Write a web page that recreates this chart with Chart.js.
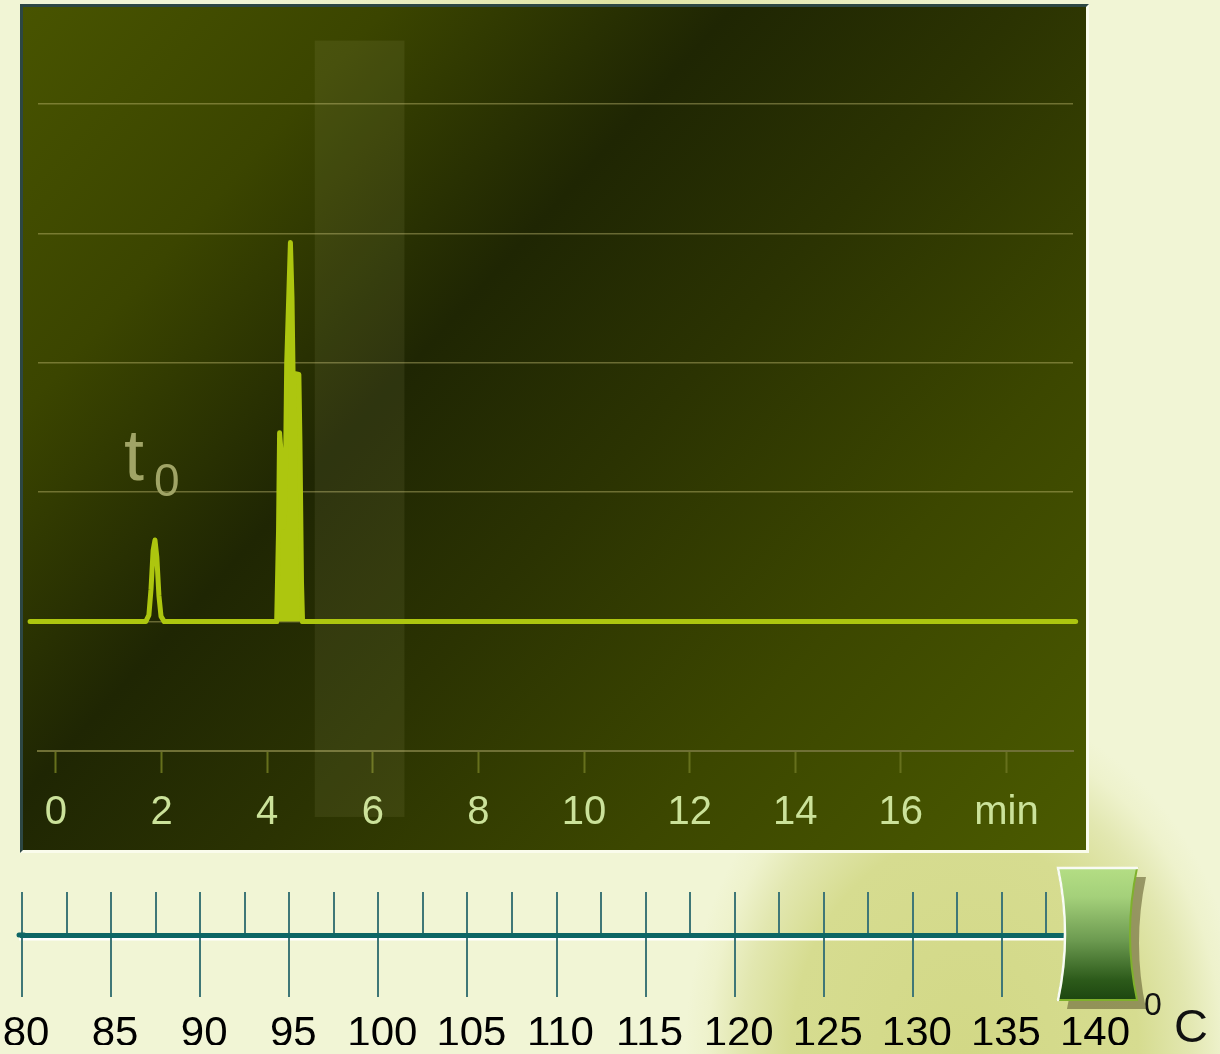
<!DOCTYPE html>
<html>
<head>
<meta charset="utf-8">
<title>Chromatogram with oven temperature</title>
<script src="https://cdn.jsdelivr.net/npm/chart.js@4/dist/chart.umd.min.js"></script>
<style>
  html, body { margin: 0; padding: 0; }
  body {
    width: 1220px; height: 1054px; overflow: hidden; position: relative;
    background:
      radial-gradient(ellipse 280px 350px at 965px 1054px, #d2d886 0%, #d6dc90 62%, #e2e7b0 80%, #eef2cc 92%, rgba(241,245,213,0) 100%),
      #f1f5d5;
  }
  #topglow {
    position: absolute; left: 0; top: 0; width: 1220px; height: 6px;
    background: linear-gradient(90deg, rgba(223,227,162,0) 20%, #dfe3a2 50%, rgba(223,227,162,0) 85%);
  }
  #panel {
    position: absolute; left: 20px; top: 4px; width: 1063px; height: 843px;
    border-left: 3px solid #2d4744; border-top: 3px solid #2d4744;
    border-right: 3px solid #fafcec; border-bottom: 3px solid #fafcec;
    background: linear-gradient(132deg, #485400 0%, #3b4500 20%, #1f2603 39%, #2b3302 55%, #3c4700 75%, #4b5b00 100%);
  }
  canvas { position: absolute; left: 0; top: 0; }
</style>
</head>
<body>
<div id="topglow"></div>
<div id="panel"></div>
<canvas id="trace" width="1220" height="1054"></canvas>
<canvas id="oven" width="1220" height="1054"></canvas>
<script>
// Detector trace: retention time (min) and detector signal (arbitrary units)
const traceTime   = [-0.49, 1.70, 1.76, 1.80, 1.84, 1.875, 1.91, 1.95, 1.99, 2.05,
                     4.18, 4.215, 4.235, 4.265, 4.28, 4.31, 4.34, 4.37, 4.44, 4.47,
                     4.49, 4.60, 4.62, 4.65, 4.67, 19.31];
const traceSignal = [0, 0, 0.05, 0.25, 0.55, 0.63, 0.50, 0.20, 0.04, 0,
                     0, 0.70, 1.46, 1.30, 0.75, 0.73, 0.90, 2.00, 2.93, 2.50,
                     1.92, 1.91, 1.40, 0.30, 0, 0];

// Time axis ticks and their labels
const timeTicks      = [0, 2, 4, 6, 8, 10, 12, 14, 16, 18];
const timeTickLabels = ['0', '2', '4', '6', '8', '10', '12', '14', '16', 'min'];

// Signal grid levels
const signalGrid = [-1, 0, 1, 2, 3, 4];

// Dead time marker, the main peak group (drawn filled) and the highlighted time window
const deadTime   = 1.875;
const peakGroup  = [4.1, 4.7];
const windowTime = [4.9, 6.6];

// Oven temperature scale (°C)
const tempTicks  = [80, 82.5, 85, 87.5, 90, 92.5, 95, 97.5, 100, 102.5, 105, 107.5, 110,
                    112.5, 115, 117.5, 120, 122.5, 125, 127.5, 130, 132.5, 135, 137.5, 140];
const tempLabels = ['80', '', '85', '', '90', '', '95', '', '100', '', '105', '', '110',
                    '', '115', '', '120', '', '125', '', '130', '', '135', '', '140'];
const ovenTemp   = 140;

const FONT = "'Liberation Sans', Arial, sans-serif";
const TRACE = '#adc60f';

// Lighter vertical band behind the trace and the t0 marker text
const tracePlugin = {
  id: 'traceDecor',
  beforeDatasetsDraw(chart) {
    const { ctx, scales: { x, y } } = chart;
    const x0 = x.getPixelForValue(windowTime[0]);
    const x1 = x.getPixelForValue(windowTime[1]);
    const y0 = y.getPixelForValue(4.49);
    const y1 = y.getPixelForValue(-1.51);
    ctx.save();
    ctx.fillStyle = 'rgba(225,232,170,0.08)';
    ctx.fillRect(x0, y0, x1 - x0, y1 - y0);
    ctx.restore();
  },
  afterDatasetsDraw(chart) {
    const { ctx, scales: { x, y } } = chart;
    const px = x.getPixelForValue(deadTime);
    const py = y.getPixelForValue(1.09);
    ctx.save();
    ctx.fillStyle = '#a0a466';
    ctx.textBaseline = 'alphabetic';
    ctx.textAlign = 'left';
    ctx.font = '72px ' + FONT;
    ctx.fillText('t', px - 31, py - 1);
    ctx.font = '46px ' + FONT;
    ctx.fillText('0', px - 1, py + 15);
    ctx.restore();
  }
};

const inPeakGroup = c => c.p0.parsed.x >= peakGroup[0] && c.p1.parsed.x <= peakGroup[1];

new Chart(document.getElementById('trace'), {
  type: 'line',
  data: {
    datasets: [{
      data: traceTime.map((t, i) => ({ x: t, y: traceSignal[i] })),
      borderColor: TRACE,
      backgroundColor: 'rgba(0,0,0,0)',
      borderWidth: 5,
      borderJoinStyle: 'round',
      borderCapStyle: 'round',
      pointRadius: 0,
      tension: 0,
      fill: 'origin',
      segment: { backgroundColor: c => (inPeakGroup(c) ? TRACE : 'rgba(0,0,0,0)') },
      clip: false
    }]
  },
  options: {
    responsive: false,
    animation: false,
    events: [],
    layout: { padding: { left: 38, right: 147, top: 104, bottom: 203 } },
    plugins: { legend: { display: false }, tooltip: { enabled: false } },
    scales: {
      x: {
        type: 'linear',
        min: -0.34,
        max: 19.26,
        afterBuildTicks: s => { s.ticks = timeTicks.map(v => ({ value: v })); },
        afterFit: s => { s.height = 100; s.paddingLeft = 0; s.paddingRight = 0; },
        ticks: {
          callback: v => timeTickLabels[timeTicks.indexOf(v)],
          color: '#cbe29a',
          font: { size: 40, family: FONT },
          padding: 16,
          maxRotation: 0,
          autoSkip: false
        },
        grid: {
          drawOnChartArea: false,
          drawTicks: true,
          tickLength: 22,
          tickColor: '#66701c',
          tickWidth: 2
        },
        border: { display: true, color: '#6f7036', width: 2 }
      },
      y: {
        type: 'linear',
        min: signalGrid[0],
        max: signalGrid[signalGrid.length - 1],
        afterBuildTicks: s => { s.ticks = signalGrid.map(v => ({ value: v })); },
        afterFit: s => { s.width = 0; s.paddingTop = 0; s.paddingBottom = 0; },
        ticks: { display: false },
        grid: { color: 'rgba(200,192,120,0.42)', lineWidth: 1.6, drawTicks: false },
        border: { display: false }
      }
    }
  },
  plugins: [tracePlugin]
});

// Oven temperature ruler with slider thumb and unit
const ovenPlugin = {
  id: 'ovenDecor',
  beforeDraw(chart) {
    const { ctx, chartArea } = chart;
    ctx.save();
    ctx.strokeStyle = '#ffffff';
    ctx.lineWidth = 3;
    ctx.beginPath();
    ctx.moveTo(chartArea.left - 3, chartArea.bottom + 4);
    ctx.lineTo(chartArea.right, chartArea.bottom + 4);
    ctx.stroke();
    ctx.restore();
  },
  afterDraw(chart) {
    const { ctx, chartArea, scales: { x } } = chart;
    const cx = x.getPixelForValue(ovenTemp) + 6;
    const left = cx - 39, right = cx + 40, top = 868, bottom = 1000, bow = 7;
    const shape = (dx, dy) => {
      ctx.beginPath();
      ctx.moveTo(left + dx, top + dy);
      ctx.lineTo(right + dx, top + dy);
      ctx.quadraticCurveTo(right - 2 * bow + dx, (top + bottom) / 2 + dy, right + dx, bottom + dy);
      ctx.lineTo(left + dx, bottom + dy);
      ctx.quadraticCurveTo(left + 2 * bow + dx, (top + bottom) / 2 + dy, left + dx, top + dy);
      ctx.closePath();
    };
    ctx.save();
    // left cap of the rail
    ctx.strokeStyle = '#0d6665';
    ctx.lineWidth = 5;
    ctx.lineCap = 'round';
    ctx.beginPath();
    ctx.moveTo(chartArea.left - 3, chartArea.bottom);
    ctx.lineTo(chartArea.left + 2, chartArea.bottom);
    ctx.stroke();
    // thumb shadow
    shape(9, 9);
    ctx.fillStyle = 'rgba(110,108,60,0.65)';
    ctx.fill();
    // thumb body
    const g = ctx.createLinearGradient(0, top, 0, bottom);
    g.addColorStop(0, '#b4de84');
    g.addColorStop(0.22, '#a4d07a');
    g.addColorStop(0.55, '#6c9a50');
    g.addColorStop(0.85, '#2c5a1a');
    g.addColorStop(1, '#1d4610');
    shape(0, 0);
    ctx.fillStyle = g;
    ctx.fill();
    ctx.lineWidth = 2;
    ctx.strokeStyle = '#7fb12c';
    ctx.stroke();
    ctx.beginPath();
    ctx.moveTo(right, top);
    ctx.lineTo(left, top);
    ctx.quadraticCurveTo(left + 2 * bow, (top + bottom) / 2, left, bottom);
    ctx.strokeStyle = 'rgba(255,255,255,0.95)';
    ctx.lineWidth = 2.5;
    ctx.stroke();
    // unit
    ctx.fillStyle = '#111';
    ctx.textAlign = 'left';
    ctx.textBaseline = 'alphabetic';
    ctx.font = '32px ' + FONT;
    ctx.fillText('0', 1144, 1015);
    ctx.font = '47px ' + FONT;
    ctx.fillText('C', 1174, 1042);
    ctx.restore();
  }
};

new Chart(document.getElementById('oven'), {
  type: 'line',
  data: { datasets: [] },
  options: {
    responsive: false,
    animation: false,
    events: [],
    layout: { padding: { left: 22, right: 129, top: 892, bottom: 9 } },
    plugins: { legend: { display: false }, tooltip: { enabled: false } },
    scales: {
      x: {
        type: 'linear',
        position: 'bottom',
        min: tempTicks[0],
        max: tempTicks[tempTicks.length - 1],
        afterBuildTicks: s => { s.ticks = tempTicks.map(v => ({ value: v })); },
        afterFit: s => { s.height = 1054 - 935 - 9; s.paddingLeft = 0; s.paddingRight = 0; },
        ticks: {
          callback: v => tempLabels[tempTicks.indexOf(v)],
          color: '#000',
          font: { size: 42, family: FONT },
          padding: 12,
          labelOffset: 4,
          maxRotation: 0,
          autoSkip: false
        },
        grid: {
          drawOnChartArea: true,
          color: '#3f7777',
          lineWidth: 2,
          tickLength: 62,
          tickWidth: 2,
          tickColor: c => (tempLabels[c.index] ? '#3f7777' : 'rgba(0,0,0,0)')
        },
        border: { display: true, color: '#0d6665', width: 5 }
      },
      y: { display: false, min: 0, max: 1 }
    }
  },
  plugins: [ovenPlugin]
});
</script>
</body>
</html>
